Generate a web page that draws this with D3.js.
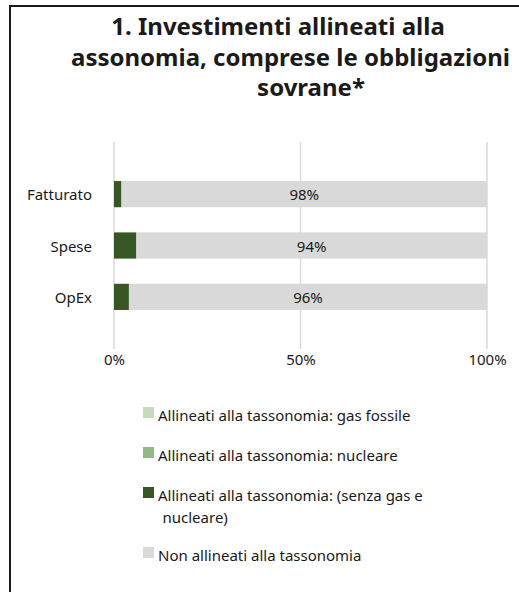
<!DOCTYPE html>
<html>
<head>
<meta charset="utf-8">
<script src="https://cdn.jsdelivr.net/npm/d3@7"></script>
<style>
  body { margin: 0; background: #fff; }
  text { font-family: "Noto Sans", "Open Sans", sans-serif; fill: #1a1a1a; }
</style>
</head>
<body>
<div id="chart"></div>
<script>
var categories = ["Fatturato", "Spese", "OpEx"];
var gasValues = [0, 0, 0];
var nuclearValues = [0, 0, 0];
var greenValues = [2, 6, 4];
var notAlignedValues = [98, 94, 96];
var tickValues = [0, 50, 100];
var seriesNames = [
  "Allineati alla tassonomia: gas fossile",
  "Allineati alla tassonomia: nucleare",
  "Allineati alla tassonomia: (senza gas e nucleare)",
  "Non allineati alla tassonomia"
];
var titleLines = ["1. Investimenti allineati alla", "assonomia, comprese le obbligazioni", "sovrane*"];

var colors = ["#c4dcbc", "#93b985", "#375623", "#d9d9d9"];

var svgWidth = 519;
var svgHeight = 592;

var svg = d3.select("#chart")
  .append("svg")
  .attr("width", svgWidth)
  .attr("height", svgHeight);

// frame: only top and left edges are visible
svg.append("path")
  .attr("d", "M10,600 L10,6 L519,6")
  .attr("fill", "none")
  .attr("stroke", "#1a1a1a")
  .attr("stroke-width", 2);

// title
var titleX = [278, 290.5, 311];
var titleY = [35, 66, 96];
svg.selectAll(".title")
  .data(titleLines)
  .enter()
  .append("text")
  .attr("class", "title")
  .attr("x", function (d, i) { return titleX[i]; })
  .attr("y", function (d, i) { return titleY[i]; })
  .attr("text-anchor", "middle")
  .attr("font-size", "24px")
  .attr("font-weight", "bold")
  .text(function (d) { return d; });

// scales
var x = d3.scaleLinear().domain([0, 100]).range([114, 487]);
var y = d3.scaleBand().domain(categories).range([142, 349])
  .paddingInner(0.49).paddingOuter(0.76);

// gridlines
svg.selectAll(".grid")
  .data(tickValues)
  .enter()
  .append("line")
  .attr("x1", function (d) { return x(d); })
  .attr("x2", function (d) { return x(d); })
  .attr("y1", 142)
  .attr("y2", 349)
  .attr("stroke", "#d9d9d9")
  .attr("stroke-width", 1.5);

// stacked data
var rows = categories.map(function (c, i) {
  return { cat: c, vals: [gasValues[i], nuclearValues[i], greenValues[i], notAlignedValues[i]] };
});

rows.forEach(function (row) {
  var start = 0;
  row.vals.forEach(function (v, k) {
    if (v > 0) {
      svg.append("rect")
        .attr("x", x(start))
        .attr("y", y(row.cat))
        .attr("width", x(start + v) - x(start))
        .attr("height", y.bandwidth())
        .attr("fill", colors[k]);
      if (k === 3) {
        svg.append("text")
          .attr("x", x(start + v / 2))
          .attr("y", y(row.cat) + y.bandwidth() / 2 + 6)
          .attr("text-anchor", "middle")
          .attr("font-size", "15px")
          .text(v + "%");
      }
    }
    start += v;
  });
});

// category labels
var leftAxis = d3.axisLeft(y).tickSize(0).tickPadding(0);
var yAxisG = svg.append("g")
  .attr("transform", "translate(92,0)")
  .call(leftAxis);
yAxisG.select(".domain").remove();
yAxisG.selectAll("text")
  .attr("dy", null)
  .attr("y", 6)
  .attr("font-size", "15px")
  .attr("font-family", "Noto Sans, sans-serif")
  .attr("fill", "#1a1a1a");

// x tick labels
var bottomAxis = d3.axisBottom(x).tickValues(tickValues)
  .tickSize(0).tickPadding(0)
  .tickFormat(function (d) { return d + "%"; });
var xAxisG = svg.append("g")
  .attr("transform", "translate(0,365)")
  .call(bottomAxis);
xAxisG.select(".domain").remove();
xAxisG.selectAll("text")
  .attr("dy", null)
  .attr("y", 0)
  .attr("font-size", "15px")
  .attr("font-family", "Noto Sans, sans-serif")
  .attr("fill", "#1a1a1a");

// legend
var legendY = [407, 447, 487, 547];
var legend = svg.selectAll(".legend")
  .data(seriesNames)
  .enter()
  .append("g")
  .attr("class", "legend")
  .attr("transform", function (d, i) { return "translate(143," + legendY[i] + ")"; });

legend.append("rect")
  .attr("width", 11)
  .attr("height", 11)
  .attr("fill", function (d, i) { return colors[i]; });

legend.each(function (d, i) {
  var g = d3.select(this);
  if (i === 2) {
    g.append("text").attr("x", 15).attr("y", 14).attr("font-size", "15px")
      .text("Allineati alla tassonomia: (senza gas e");
    g.append("text").attr("x", 19.5).attr("y", 36).attr("font-size", "15px")
      .text("nucleare)");
  } else {
    g.append("text").attr("x", 15).attr("y", 14).attr("font-size", "15px").text(d);
  }
});
</script>
</body>
</html>
